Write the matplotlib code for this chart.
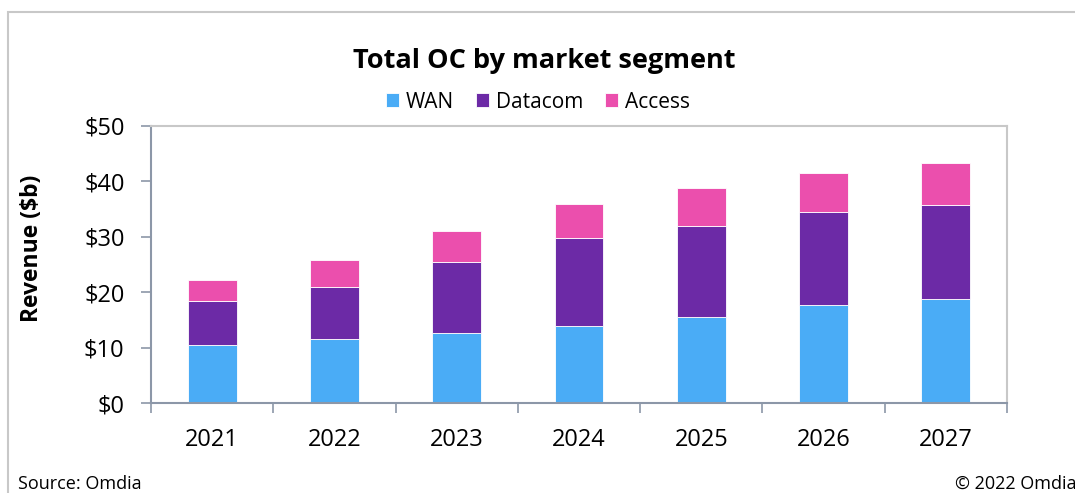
import numpy as np
import matplotlib.pyplot as plt
from matplotlib.patches import Rectangle

# Data ($b)
years = ['2021', '2022', '2023', '2024', '2025', '2026', '2027']
wan = [10.5, 11.5, 12.7, 13.9, 15.45, 17.6, 18.85]
datacom = [7.95, 9.5, 12.8, 15.9, 16.55, 16.95, 16.9]
access = [3.8, 4.8, 5.6, 6.1, 6.75, 7.05, 7.5]
y_ticks = [0, 10, 20, 30, 40, 50]

plt.rcParams['font.family'] = ['Open Sans', 'DejaVu Sans']

W, H = 1075, 493
fig = plt.figure(figsize=(W / 100, H / 100), dpi=100)

# outer chart frame (cropped at right/bottom in the original)
fig.patches.append(Rectangle((8 / W, -0.1), 1.2, 1 - 12 / H + 0.1, transform=fig.transFigure,
                             fill=False, edgecolor='#c8c8c8', linewidth=1.5))

ax = fig.add_axes([151 / W, 1 - 403 / H, (1007 - 151) / W, (403 - 126) / H])

x = np.arange(len(years))
bw = 0.4
ec = dict(edgecolor='#ffffff', linewidth=0.6)
ax.bar(x, wan, bw, color='#4aacf6', label='WAN', **ec)
ax.bar(x, datacom, bw, bottom=wan, color='#6c2aa6', label='Datacom', **ec)
bottom2 = [a + b for a, b in zip(wan, datacom)]
ax.bar(x, access, bw, bottom=bottom2, color='#eb4fad', label='Access', **ec)

ax.set_xlim(-0.5, len(years) - 0.5)
ax.set_ylim(0, 50)
ax.set_yticks(y_ticks)
ax.set_yticklabels(['${}'.format(v) for v in y_ticks], fontsize=17)
ax.set_xticks(x)
ax.set_xticklabels(years, fontsize=17)
ax.set_xticks(np.arange(-0.5, len(years), 1), minor=True)
ax.tick_params(axis='x', which='major', length=0, pad=18)
ax.tick_params(axis='x', which='minor', length=7, color='#8c97a8', width=1.2)
ax.tick_params(axis='y', length=7, color='#8c97a8', width=1.2, pad=12)

for s in ['left', 'bottom']:
    ax.spines[s].set_color('#8c97a8')
    ax.spines[s].set_linewidth(1.5)
for s in ['top', 'right']:
    ax.spines[s].set_color('#c8c8c8')
    ax.spines[s].set_linewidth(1.5)

fig.text(32 / W, 1 - 248 / H, 'Revenue ($b)', rotation=90, ha='center', va='center',
         fontsize=16.5, fontweight='bold')

fig.text(544 / W, 1 - 61 / H, 'Total OC by market segment', ha='center', va='center',
         fontsize=19.5, fontweight='bold')
fig.legend(loc='center', bbox_to_anchor=(538 / W, 1 - 102 / H), ncol=3, frameon=False,
           fontsize=15, handlelength=0.62, handleheight=0.62, handletextpad=0.35,
           columnspacing=1.05, borderpad=0)

fig.text(18 / W, 1 - 484 / H, 'Source: Omdia', ha='left', va='center', fontsize=13)
fig.text(955 / W, 1 - 484 / H, '© 2022 Omdia', ha='left', va='center', fontsize=13)

fig.savefig('out.png', dpi=100)
